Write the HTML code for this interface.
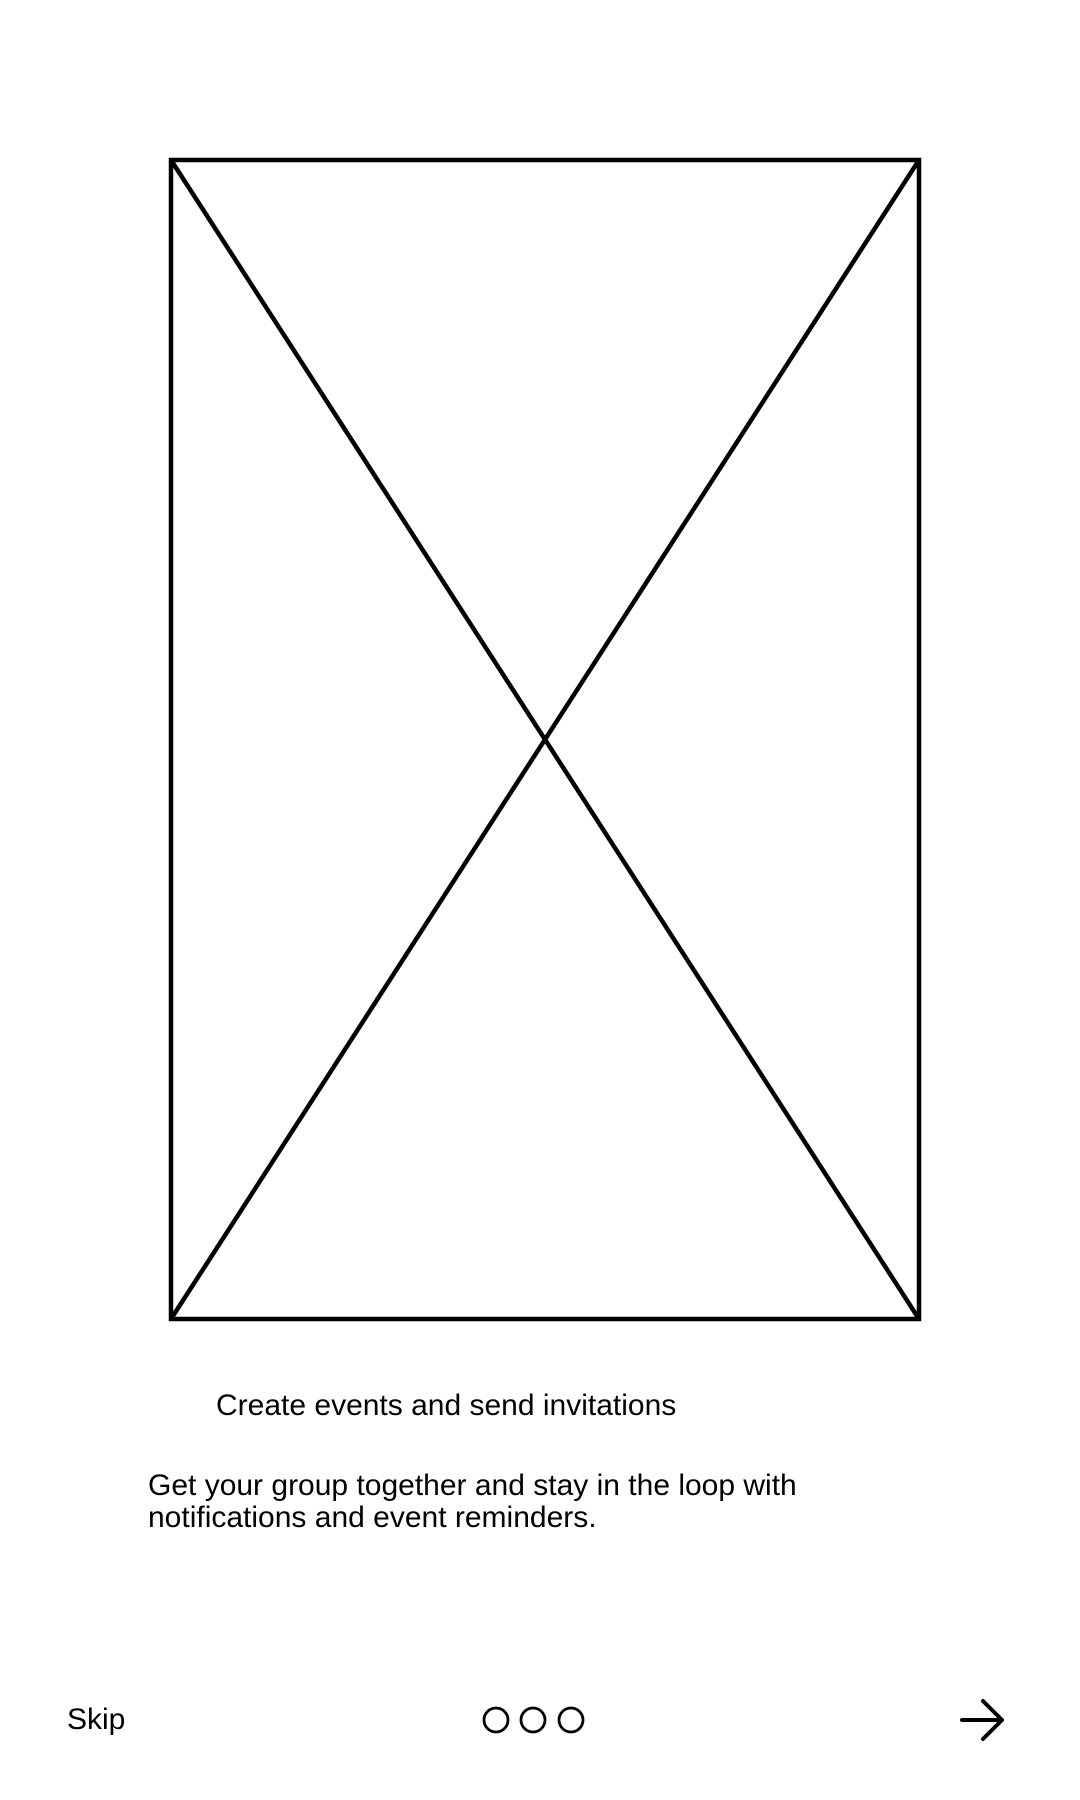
<!DOCTYPE html>
<html>
<head>
<meta charset="utf-8">
<style>
  html,body{margin:0;padding:0;background:#fff;}
  body{width:1080px;height:1800px;position:relative;overflow:hidden;font-family:"Liberation Sans",Arial,sans-serif;color:#000;}
  svg{position:absolute;left:0;top:0;}
  .t{position:absolute;white-space:nowrap;}
</style>
</head>
<body>
<svg width="1080" height="1800">
  <g stroke="#000" stroke-width="4.5" fill="none">
    <rect x="171" y="160" width="748" height="1159"/>
    <line x1="171" y1="160" x2="919" y2="1319"/>
    <line x1="919" y1="160" x2="171" y2="1319"/>
  </g>
  <g stroke="#000" stroke-width="2.8" fill="none">
    <circle cx="496" cy="1720" r="12"/>
    <circle cx="533" cy="1720" r="12"/>
    <circle cx="571" cy="1720" r="12"/>
  </g>
  <g stroke="#000" stroke-width="4" fill="none" stroke-linecap="round" stroke-linejoin="round">
    <line x1="962" y1="1720" x2="1002" y2="1720"/>
    <polyline points="983,1701 1002,1720 983,1739"/>
  </g>
</svg>
<div class="t" style="left:216px;top:1389px;font-size:30px;line-height:34px;">Create events and send invitations</div>
<div class="t" style="left:148px;top:1470px;font-size:30px;line-height:32px;">Get your group together and stay in the loop with<br>notifications and event reminders.</div>
<div class="t" style="left:67px;top:1703px;font-size:30px;line-height:34px;">Skip</div>
</body>
</html>
